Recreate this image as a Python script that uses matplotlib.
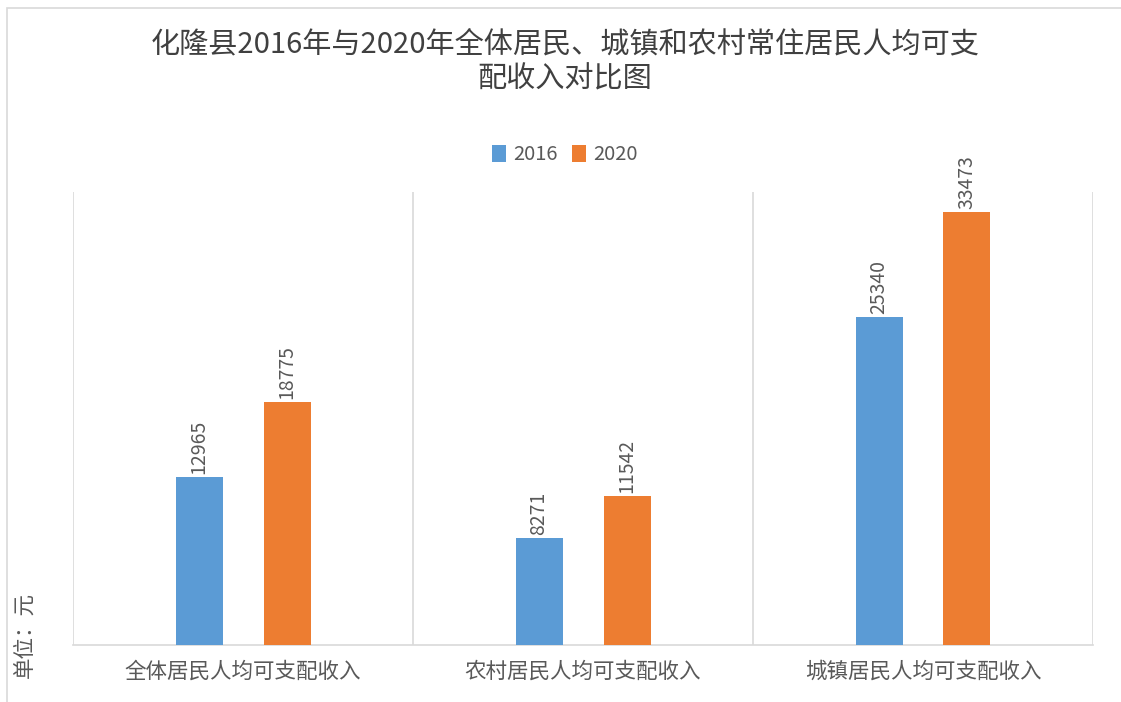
import matplotlib.pyplot as plt
import numpy as np
from matplotlib.patches import Rectangle

plt.rcParams['font.family'] = ['Noto Sans CJK SC', 'DejaVu Sans']

# chart data
categories = ["全体居民人均可支配收入", "农村居民人均可支配收入", "城镇居民人均可支配收入"]
series_names = ["2016", "2020"]
values_2016 = [12965, 8271, 25340]
values_2020 = [18775, 11542, 33473]
colors = ["#5B9BD5", "#ED7D31"]
title = "化隆县2016年与2020年全体居民、城镇和农村常住居民人均可支\n配收入对比图"
unit_label = "单位：元"

fig = plt.figure(figsize=(11.21, 7.02), dpi=100)
ax = fig.add_axes([73 / 1121, 1 - 645 / 702, (1093 - 73) / 1121, (645 - 192) / 702])

x = np.arange(len(categories))
offset = 44 / 340
width = 47 / 340
grey = "#595959"

for vals, name, col, sign in [(values_2016, series_names[0], colors[0], -1),
                              (values_2020, series_names[1], colors[1], 1)]:
    bars = ax.bar(x + sign * offset, vals, width, color=col, label=name, zorder=3)
    for b, v in zip(bars, vals):
        ax.annotate(str(v), (b.get_x() + b.get_width() / 2, b.get_height()),
                    xytext=(0, 2), textcoords="offset points",
                    rotation=90, ha="center", va="bottom",
                    fontsize=14, color=grey)

ax.set_xlim(-0.5, len(categories) - 0.5)
ax.set_ylim(0, 35000)
ax.set_yticks([])
ax.set_xticks(x)
ax.set_xticklabels(categories, fontsize=15.5, color=grey)
ax.set_xticks(np.arange(len(categories) + 1) - 0.5, minor=True)
ax.tick_params(axis="x", which="both", length=0, pad=11)
ax.grid(axis="x", which="minor", color="#d9d9d9", linewidth=1.2, zorder=0)
for s in ["top", "right", "left"]:
    ax.spines[s].set_visible(False)
ax.spines["bottom"].set_color("#d9d9d9")
ax.spines["bottom"].set_linewidth(1.2)

fig.text(565 / 1121, 1 - 62 / 702, title, ha="center", va="center",
         fontsize=21, fontweight="medium", color="#404040", linespacing=1.22)

leg = fig.legend(loc="center", bbox_to_anchor=(565 / 1121, 1 - 155 / 702), ncol=2,
                 frameon=False, fontsize=14.5, handlelength=0.7, handleheight=0.9,
                 handletextpad=0.35, columnspacing=0.7)
for t in leg.get_texts():
    t.set_color(grey)

fig.text(25 / 1121, 1 - 635 / 702, unit_label, rotation=90, ha="center", va="center",
         fontsize=15.5, color=grey)

# outer chart frame, cut off on the right and bottom
fig.add_artist(Rectangle((7 / 1121, -0.1), 1.2, (702 - 8) / 702 + 0.1,
                         transform=fig.transFigure, fill=False,
                         edgecolor="#d9d9d9", linewidth=1.2))

fig.savefig("out.png", dpi=100)
